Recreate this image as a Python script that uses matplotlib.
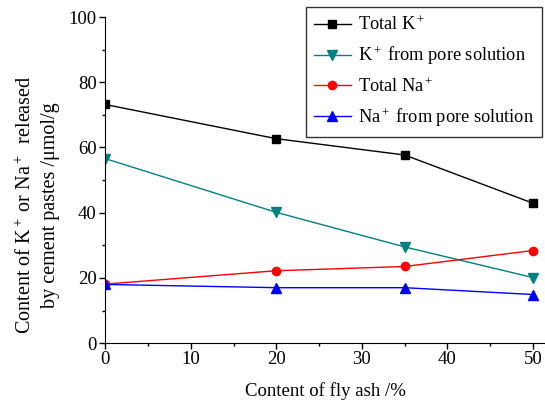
import numpy as np
import matplotlib.pyplot as plt

plt.rcParams['font.family'] = ['Liberation Serif', 'DejaVu Serif']
plt.rcParams['mathtext.fontset'] = 'custom'
plt.rcParams['mathtext.rm'] = 'Liberation Serif'
plt.rcParams['mathtext.it'] = 'Liberation Serif:italic'

# data
fly_ash = [0, 20, 35, 50]
total_k = [73.2, 62.7, 57.7, 42.9]
pore_k = [56.6, 40.1, 29.5, 20.1]
total_na = [18.1, 22.2, 23.5, 28.4]
pore_na = [18.0, 17.0, 17.0, 14.9]

fig = plt.figure(figsize=(5.45, 4.07), dpi=100)
ax = fig.add_axes([0.193, 0.157, 0.807, 0.801])

ax.plot(fly_ash, total_k, '-s', color='black', lw=1, ms=5.5, label='Total K$^+$')
ax.plot(fly_ash, pore_k, '-v', color='#008080', lw=1, ms=6.5, label='K$^+$ from pore solution')
ax.plot(fly_ash, total_na, '-o', color='red', lw=1, ms=6, label='Total Na$^+$')
ax.plot(fly_ash, pore_na, '-^', color='blue', lw=1, ms=6.5, label='Na$^+$ from pore solution')

ax.set_xlim(0, 51.4)
ax.set_ylim(0, 100)
ax.set_xticks([0, 10, 20, 30, 40, 50])
ax.set_xticks(np.arange(5, 51, 10), minor=True)
ax.set_yticks([0, 20, 40, 60, 80, 100])
ax.set_yticks(np.arange(10, 100, 20), minor=True)
ax.tick_params(labelsize=13.5, direction='out', length=4, width=1, pad=2)
ax.tick_params(which='minor', direction='out', length=2.5, width=1)
for s in ['top', 'right']:
    ax.spines[s].set_visible(False)

ax.set_xlabel('Content of fly ash /%', fontsize=13.5, labelpad=10)
fig.text(38 / 545, 1 - 205 / 407,
         'Content of K$^+$ or Na$^+$  released\nby cement pastes /\u03bcmol/g',
         rotation=90, ha='center', va='center', multialignment='center',
         fontsize=14.5, linespacing=1.4)

leg = ax.legend(loc='upper right', bbox_to_anchor=(0.995, 0.982), bbox_transform=fig.transFigure,
                borderaxespad=0, fontsize=13.2, frameon=True, fancybox=False, edgecolor='black',
                handlelength=2.0, handletextpad=0.4, borderpad=0.45, labelspacing=0.55)
leg.get_frame().set_linewidth(1)
leg.set_clip_on(False)

fig.savefig('out.png', dpi=100)
